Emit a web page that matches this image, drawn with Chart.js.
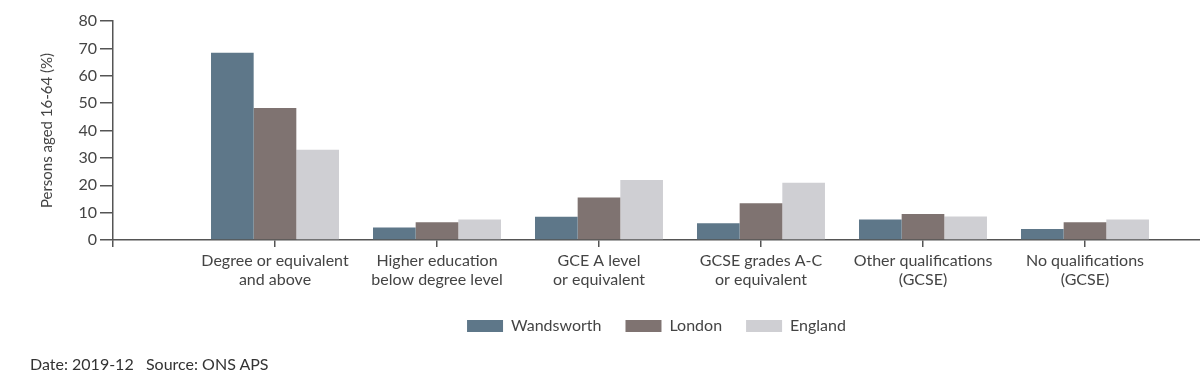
<!DOCTYPE html>
<html>
<head>
<meta charset="utf-8">
<script src="https://cdn.jsdelivr.net/npm/chart.js@4.4.1/dist/chart.umd.min.js"></script>
<style>
  html, body { margin: 0; padding: 0; background: #fff; }
  #wrap { position: relative; width: 1200px; height: 388px; }
  #footer { position: absolute; left: 30px; top: 354px; font-family: Lato, sans-serif; font-size: 16px; color: #333; white-space: pre; }
</style>
</head>
<body>
<div id="wrap">
  <canvas id="c" width="1200" height="388"></canvas>
  <div id="footer">Date: 2019-12   Source: ONS APS</div>
</div>
<script>
const categories = [
  ['Degree or equivalent', 'and above'],
  ['Higher education', 'below degree level'],
  ['GCE A level', 'or equivalent'],
  ['GCSE grades A-C', 'or equivalent'],
  ['Other qualifications', '(GCSE)'],
  ['No qualifications', '(GCSE)']
];
const seriesNames = ['Wandsworth', 'London', 'England'];
const wandsworth = [68.4, 4.6, 8.5, 6.1, 7.5, 4.0];
const london     = [48.2, 6.5, 15.5, 13.4, 9.5, 6.5];
const england    = [33.0, 7.5, 21.9, 20.9, 8.6, 7.5];
const yTicks = [0, 10, 20, 30, 40, 50, 60, 70, 80];

const colors = ['#5e7789', '#7f7371', '#cfcfd3'];
const toPoints = arr => arr.map((v, i) => ({ x: i + 1, y: v }));

const textColor = '#444';
const axisColor = '#555';

new Chart(document.getElementById('c'), {
  type: 'bar',
  data: {
    datasets: [wandsworth, london, england].map((arr, k) => ({
      label: seriesNames[k],
      data: toPoints(arr),
      backgroundColor: colors[k],
      borderWidth: 0,
      categoryPercentage: 0.79,
      barPercentage: 1.0
    }))
  },
  options: {
    responsive: false,
    animation: false,
    layout: { padding: { top: 21, right: 0, bottom: 44, left: 0 } },
    plugins: {
      legend: {
        position: 'bottom',
        fullSize: false,
        labels: {
          boxWidth: 36, boxHeight: 12, padding: 24,
          color: textColor,
          font: { family: 'Lato', size: 16 }
        }
      },
      tooltip: { enabled: false }
    },
    scales: {
      x: {
        type: 'linear',
        offset: false,
        min: 0,
        max: 6.71,
        afterBuildTicks: s => { s.ticks = [0,1,2,3,4,5,6].map(v => ({ value: v })); },
        afterFit: s => { s.height = 54; },
        ticks: {
          autoSkip: false,
          maxRotation: 0,
          color: textColor,
          padding: 4,
          font: { family: 'Lato', size: 16 },
          callback: v => (v >= 1 && v <= categories.length) ? categories[v - 1] : ''
        },
        grid: { offset: false, drawOnChartArea: false, drawTicks: true, tickLength: 7, color: axisColor, lineWidth: 1.5 },
        border: { display: true, color: axisColor, width: 1.5 }
      },
      y: {
        min: 0,
        max: 80,
        afterBuildTicks: s => { s.ticks = yTicks.map(v => ({ value: v })); },
        afterFit: s => { s.width = 113; },
        ticks: {
          color: textColor,
          padding: 3,
          font: { family: 'Lato', size: 16 }
        },
        title: {
          display: true,
          text: 'Persons aged 16-64 (%)',
          color: textColor,
          font: { family: 'Lato', size: 15 },
          padding: { top: 38, bottom: 0 }
        },
        grid: { drawOnChartArea: false, drawTicks: true, tickLength: 13, color: axisColor, lineWidth: 1.5 },
        border: { display: true, color: axisColor, width: 1.5 }
      }
    }
  }
});
</script>
</body>
</html>
